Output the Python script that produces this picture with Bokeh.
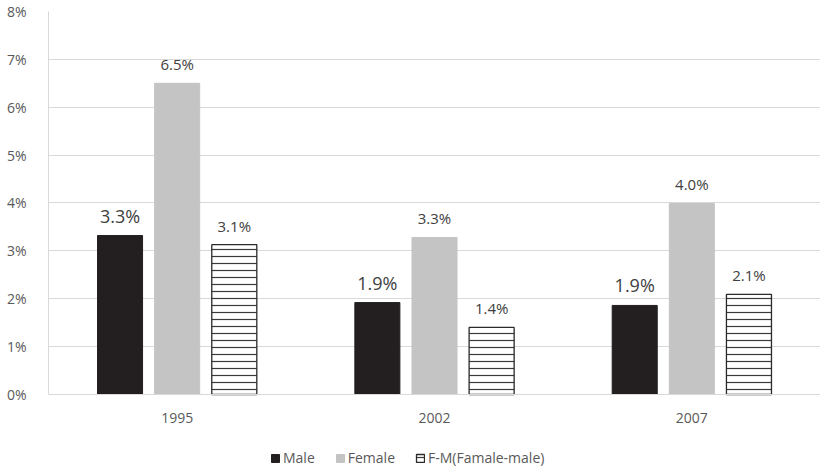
from bokeh.plotting import figure
from bokeh.models import (ColumnDataSource, FactorRange, FixedTicker, PrintfTickFormatter,
                          LabelSet, Legend, LegendItem)
from bokeh.core.properties import value
from bokeh.transform import dodge
from bokeh.embed import file_html
from bokeh.resources import INLINE

years = ["1995", "2002", "2007"]
male = [3.32, 1.92, 1.86]
female = [6.50, 3.28, 3.99]
fm = [3.13, 1.40, 2.09]
male_labels = ["3.3%", "1.9%", "1.9%"]
female_labels = ["6.5%", "3.3%", "4.0%"]
fm_labels = ["3.1%", "1.4%", "2.1%"]
y_ticks = [0, 1, 2, 3, 4, 5, 6, 7, 8]

FONT = "Open Sans"

src = ColumnDataSource(dict(years=years, male=male, female=female, fm=fm,
                            ml=male_labels, fl=female_labels, fml=fm_labels))

# frame runs to the bottom of the page; the value axis starts at 0 inside it
p = figure(x_range=FactorRange(*years, range_padding=0), y_range=(-1.525, 8),
           width=820, height=467, output_backend="svg", toolbar_location=None,
           min_border_left=48, min_border_right=0, min_border_top=11, min_border_bottom=0)
p.outline_line_color = None
p.background_fill_color = "white"
p.border_fill_color = "white"

W = 0.175
OFF = 0.222
r_m = p.vbar(x=dodge("years", -OFF, range=p.x_range), top="male", width=W, source=src,
             fill_color="#231f20", line_color="#231f20")
r_f = p.vbar(x=dodge("years", 0, range=p.x_range), top="female", width=W, source=src,
             fill_color="#c4c4c4", line_color="#c4c4c4")
r_d = p.vbar(x=dodge("years", OFF, range=p.x_range), top="fm", width=W, source=src,
             fill_color="white", line_color="#2a2a2a", line_width=1.3,
             hatch_pattern="horizontal_line", hatch_scale=7, hatch_weight=1.2,
             hatch_color="#3a3a3a")

for xoff, col, lab, size in [(-OFF, "male", "ml", "18px"), (0, "female", "fl", "15px"),
                             (OFF, "fm", "fml", "15px")]:
    ls = LabelSet(x=dodge("years", xoff, range=p.x_range), y=col, text=lab, source=src,
                  text_align="center", text_baseline="alphabetic", y_offset=13,
                  text_font=value(FONT), text_font_size=value(size),
                  text_color=value("#404040"))
    p.add_layout(ls)

p.yaxis.ticker = FixedTicker(ticks=y_ticks)
p.yaxis.bounds = (0, 8)
p.yaxis.formatter = PrintfTickFormatter(format="%d%%")
p.yaxis.axis_line_color = "#d9d9d9"
p.yaxis.major_tick_line_color = None
p.yaxis.minor_tick_line_color = None
p.yaxis.major_label_standoff = 16
p.yaxis.major_label_text_font = FONT
p.yaxis.major_label_text_font_size = "14px"
p.yaxis.major_label_text_color = "#595959"

p.xaxis.fixed_location = 0
p.xaxis.axis_line_color = "#d9d9d9"
p.xaxis.major_tick_line_color = None
p.xaxis.minor_tick_line_color = None
p.xaxis.major_label_standoff = 13
p.xaxis.major_label_text_font = FONT
p.xaxis.major_label_text_font_size = "14px"
p.xaxis.major_label_text_color = "#595959"

p.xgrid.grid_line_color = None
p.ygrid.grid_line_color = "#d9d9d9"
p.ygrid.grid_line_width = 1

legend = Legend(items=[LegendItem(label="Male", renderers=[r_m]),
                       LegendItem(label="Female", renderers=[r_f]),
                       LegendItem(label="F-M(Famale-male)", renderers=[r_d])],
                location=(222, 0), orientation="horizontal",
                glyph_width=10, glyph_height=10, label_standoff=3, spacing=20,
                padding=0, margin=0, border_line_color=None, background_fill_alpha=0,
                label_text_font=FONT, label_text_font_size="14px",
                label_text_color="#595959")
p.add_layout(legend, "center")

open("out.html", "w").write(file_html(p, INLINE))
